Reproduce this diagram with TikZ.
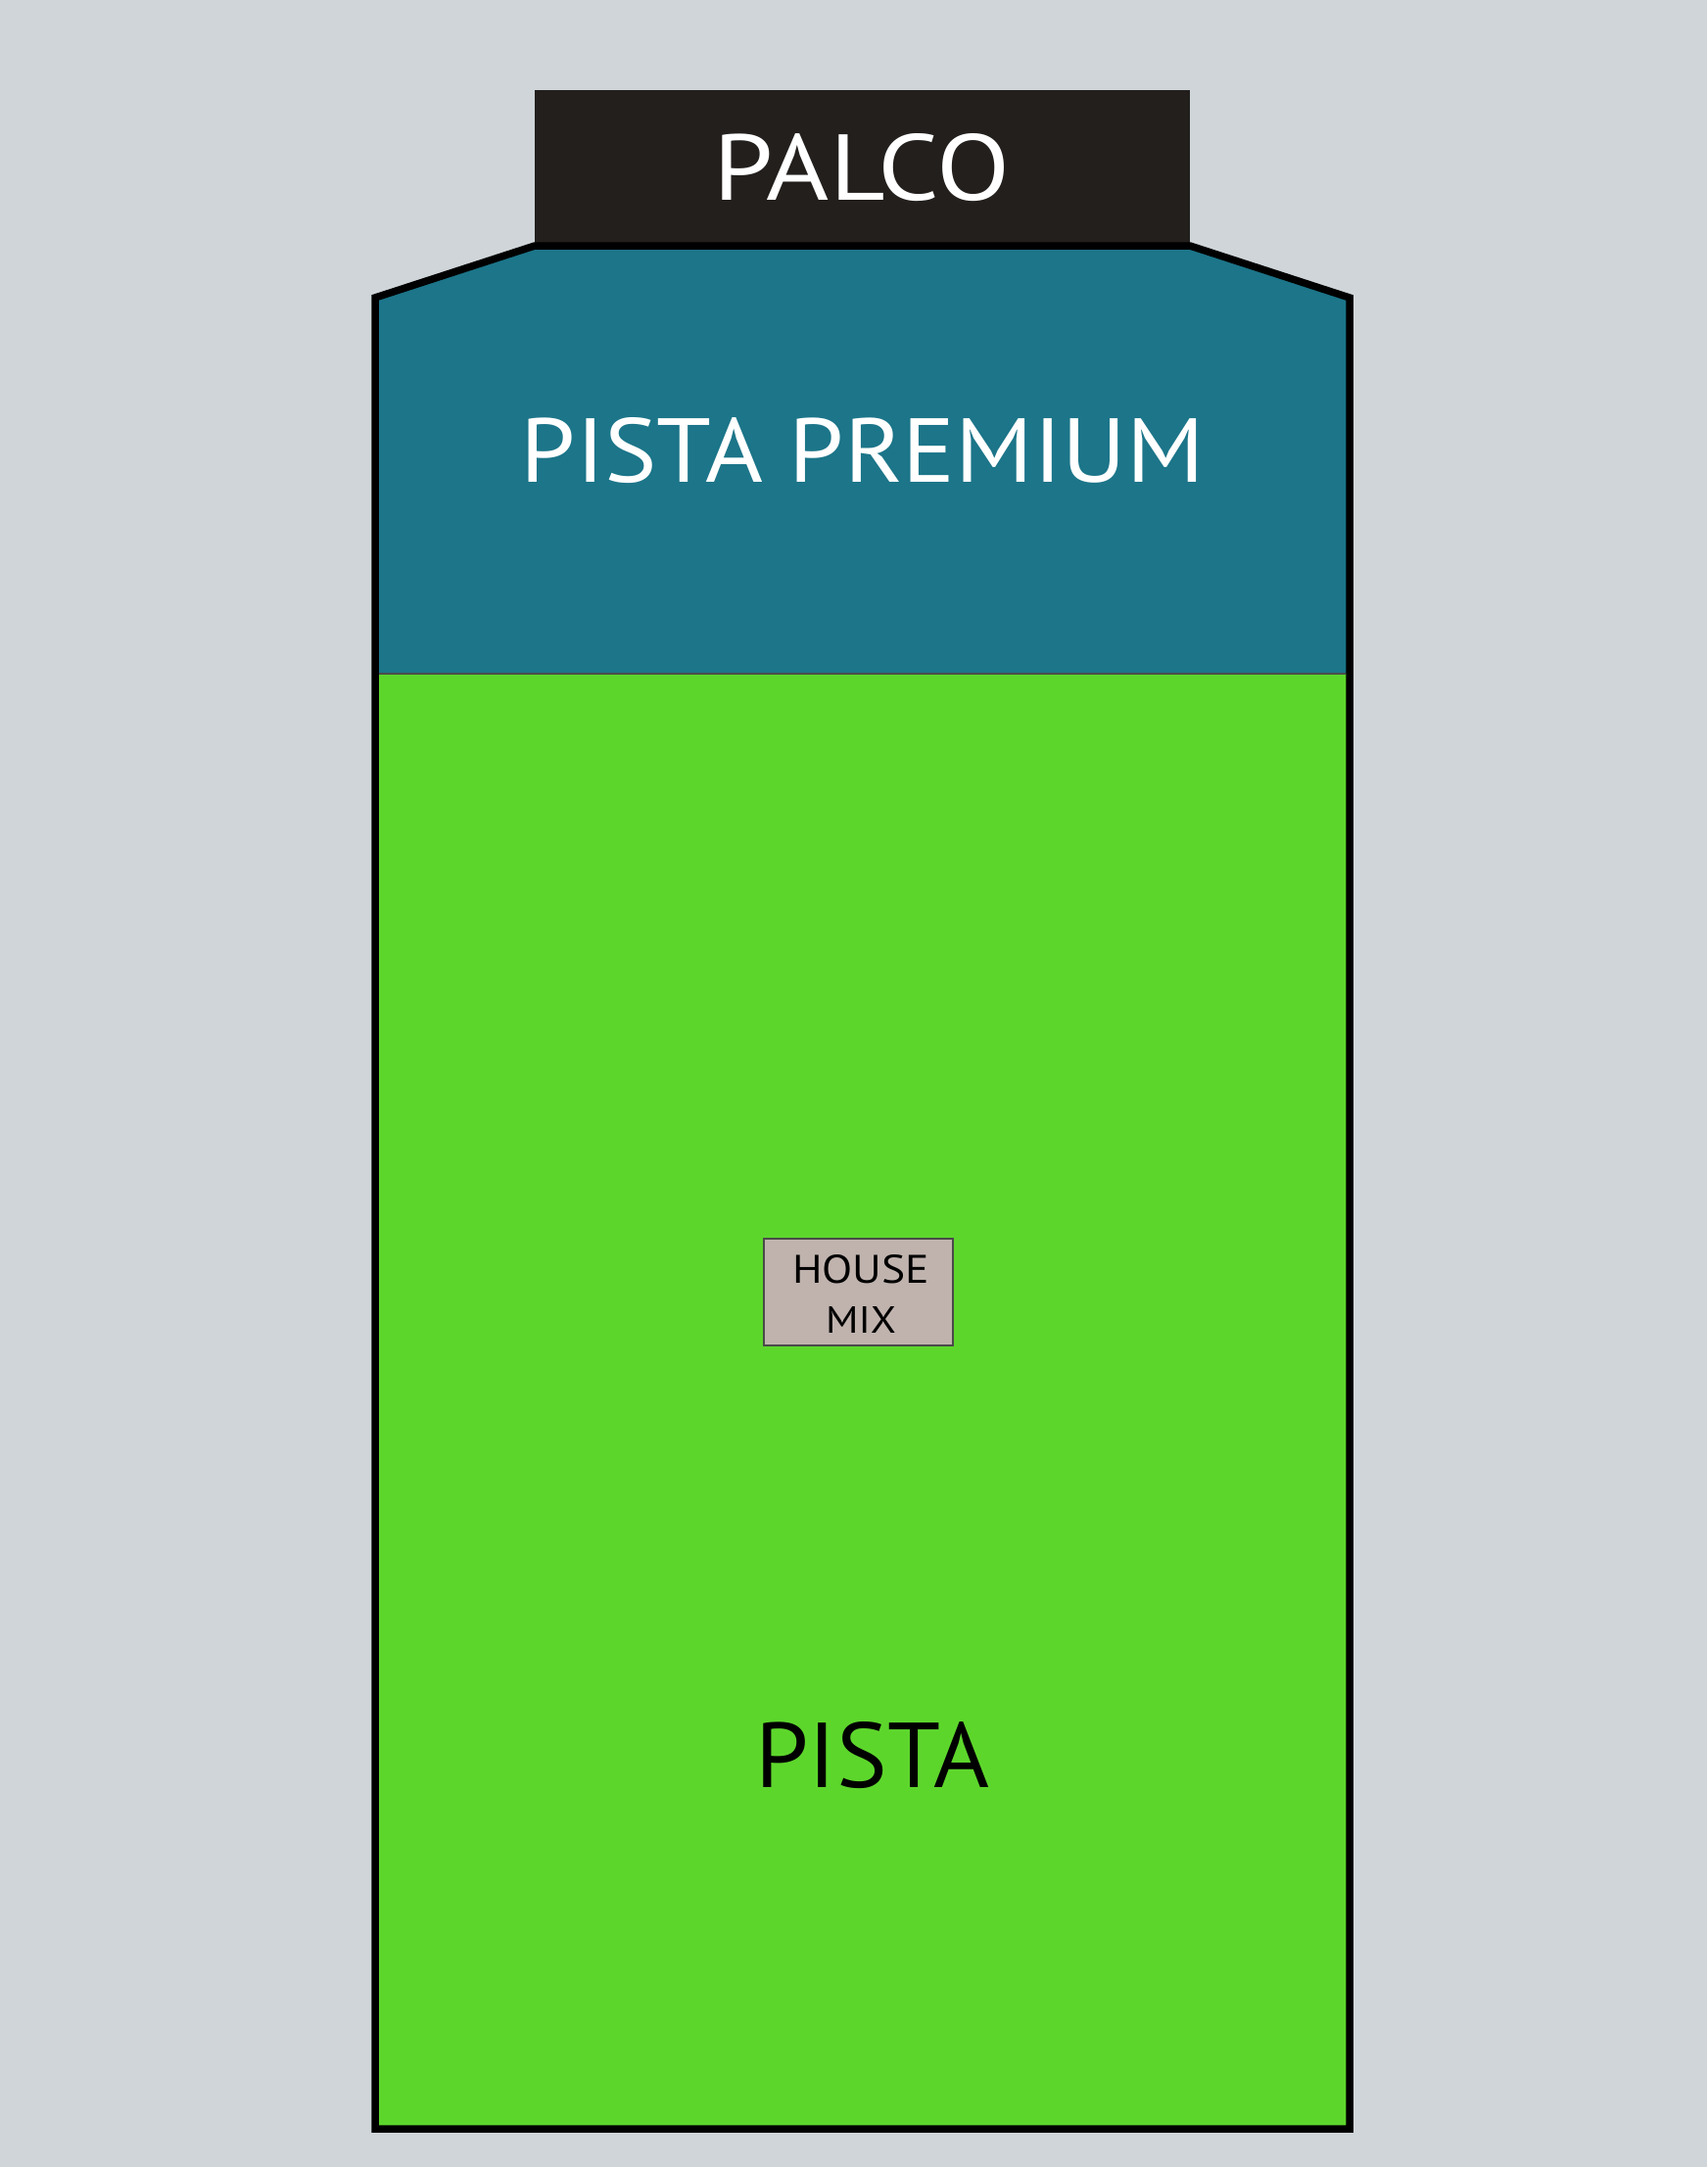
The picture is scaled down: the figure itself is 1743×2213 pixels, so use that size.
\documentclass[tikz,border=0pt]{standalone}
\usepackage{fontspec}
\setmainfont{PT Sans}
\definecolor{bgc}{HTML}{CFD5D8}
\definecolor{stagec}{HTML}{221F1D}
\definecolor{tealc}{HTML}{1C7589}
\definecolor{greenc}{HTML}{5DD62C}
\definecolor{boxc}{HTML}{C0B3AE}
\definecolor{boxline}{HTML}{4A4A4A}
\newcommand{\fitcap}[3]{\resizebox{#1pt}{#2pt}{#3}}
\tikzset{
  label/.style={inner sep=0pt, anchor=center},
  outline/.style={draw=black, line width=7.5pt, line join=miter},
}
\begin{document}
\begin{tikzpicture}[x=1pt,y=-1pt]
\useasboundingbox (0,0) rectangle (1743,2213);
\fill[bgc] (0,0) rectangle (1743,2213);
% regions
\fill[tealc] (383,304) -- (546,251) -- (1215,251) -- (1378,304) -- (1378,688) -- (383,688) -- cycle;
\fill[greenc] (383,688) rectangle (1378,2174);
\draw[line width=2pt, draw=black!70] (387,688) -- (1374,688);
% stage
\fill[stagec] (546,92) rectangle (1215,251);
% outline
\draw[outline] (383,2174) -- (383,304) -- (546,251) -- (1215,251) -- (1378,304) -- (1378,2174) -- cycle;
% texts
\node[label, text=white] (palco) at (880,171) {\fitcap{303}{68}{PALCO}};
\node[label, text=white] (premium) at (881,460) {\fitcap{698}{66}{PISTA PREMIUM}};
\node[label, text=black] (pista) at (891,1793) {\fitcap{239}{67}{PISTA}};
% house mix
\draw[fill=boxc, draw=boxline, line width=1.5pt] (780,1265) rectangle (973,1374);
\node[label, text=black] (house) at (879,1296.5) {\fitcap{140}{29}{HOUSE}};
\node[label, text=black] (mix) at (879,1347.5) {\fitcap{72}{27}{MIX}};
\end{tikzpicture}
\end{document}
